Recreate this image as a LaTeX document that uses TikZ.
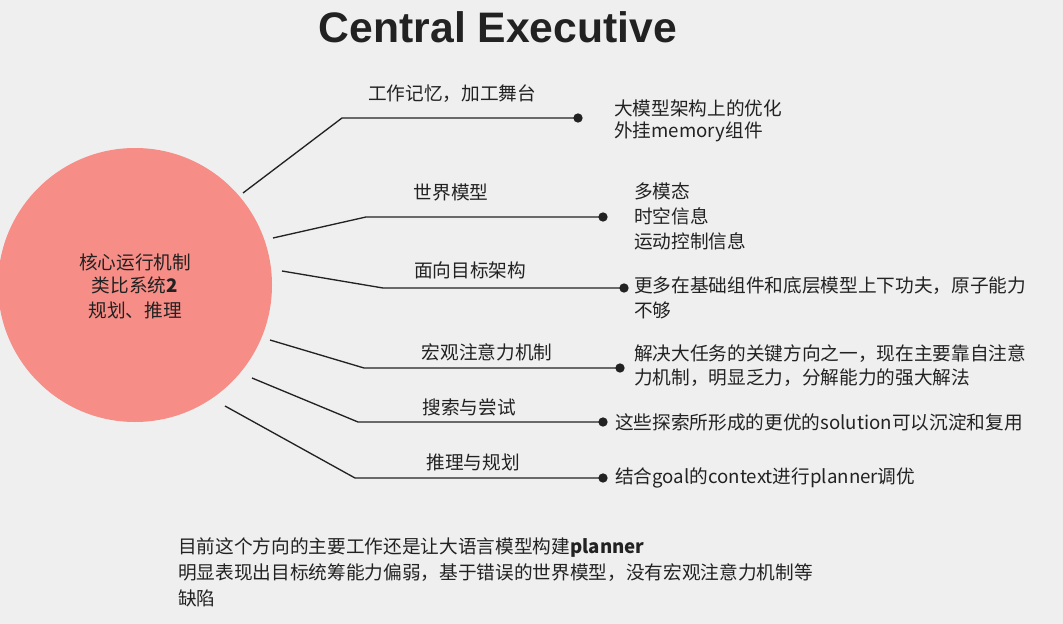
\documentclass[tikz,border=0pt]{standalone}
\usepackage{fontspec}
\setmainfont{Noto Sans CJK SC}
\newfontfamily\titlefont{Liberation Sans}
\definecolor{bg}{HTML}{EFEFEF}
\definecolor{circ}{HTML}{F68D86}
\definecolor{ink}{HTML}{222222}
\begin{document}
\begin{tikzpicture}[x=0.75pt,y=-0.75pt,
  br/.style={draw=ink,line width=1pt},
  dotc/.style={circle,fill=ink,inner sep=0pt,minimum size=7pt},
  lab/.style={font=\fontsize{14}{16}\selectfont,text=ink,inner sep=0pt},
  txt/.style={font=\fontsize{14}{16}\selectfont,text=ink,inner sep=0pt,anchor=west}]
\fill[bg] (0,0) rectangle (1063,624);
\useasboundingbox (0,0) rectangle (1063,624);
\node[font=\titlefont\bfseries\fontsize{32}{36}\selectfont,text=ink] (title) at (498,27) {Central Executive};
\node[circle,fill=circ,minimum size=205.5pt,inner sep=0pt] (c) at (135,285) {};
\node[lab] (c1) at (135,262) {核心运行机制};
\node[lab] (c2) at (135,285) {类比系统\textbf{2}};
\node[lab] (c3) at (135,310) {规划、推理};
% branches
\coordinate (s1) at (243,193); \coordinate (e1) at (342,118); \node[dotc] (d1) at (578,118) {};
\coordinate (s2) at (273,238); \coordinate (e2) at (366,217); \node[dotc] (d2) at (603,217) {};
\coordinate (s3) at (282,271); \coordinate (e3) at (383,288); \node[dotc] (d3) at (624,288) {};
\coordinate (s4) at (270,340); \coordinate (e4) at (364,368); \node[dotc] (d4) at (620,368) {};
\coordinate (s5) at (252,378); \coordinate (e5) at (358,422); \node[dotc] (d5) at (603,422) {};
\coordinate (s6) at (225,406); \coordinate (e6) at (355,478); \node[dotc] (d6) at (603,478) {};
\foreach \i in {1,...,6} \draw[br] (s\i) -- (e\i) -- (d\i.center);
\node[lab] (l1) at (452,94) {工作记忆，加工舞台};
\node[lab] (l2) at (451,192) {世界模型};
\node[lab] (l3) at (470,270) {面向目标架构};
\node[lab] (l4) at (487,352) {宏观注意力机制};
\node[lab] (l5) at (469,407) {搜索与尝试};
\node[lab] (l6) at (473,462) {推理与规划};
\node[txt] (t1a) at (614,108) {大模型架构上的优化};
\node[txt] (t1b) at (614,132) {外挂memory组件};
\node[txt] (t2a) at (634,191) {多模态};
\node[txt] (t2b) at (634,216) {时空信息};
\node[txt] (t2c) at (634,241) {运动控制信息};
\node[txt] (t3a) at (634,286) {更多在基础组件和底层模型上下功夫，原子能力};
\node[txt] (t3b) at (634,310) {不够};
\node[txt] (t4a) at (634,354) {解决大任务的关键方向之一，现在主要靠自注意};
\node[txt] (t4b) at (634,378) {力机制，明显乏力，分解能力的强大解法};
\node[txt] (t5) at (615,422) {这些探索所形成的更优的solution可以沉淀和复用};
\node[txt] (t6) at (615,478) {结合goal的context进行planner调优};
\node[txt] (b1) at (178,548) {目前这个方向的主要工作还是让大语言模型构建\textbf{planner}};
\node[txt] (b2) at (178,573) {明显表现出目标统筹能力偏弱，基于错误的世界模型，没有宏观注意力机制等};
\node[txt] (b3) at (178,598) {缺陷};
\end{tikzpicture}
\end{document}
